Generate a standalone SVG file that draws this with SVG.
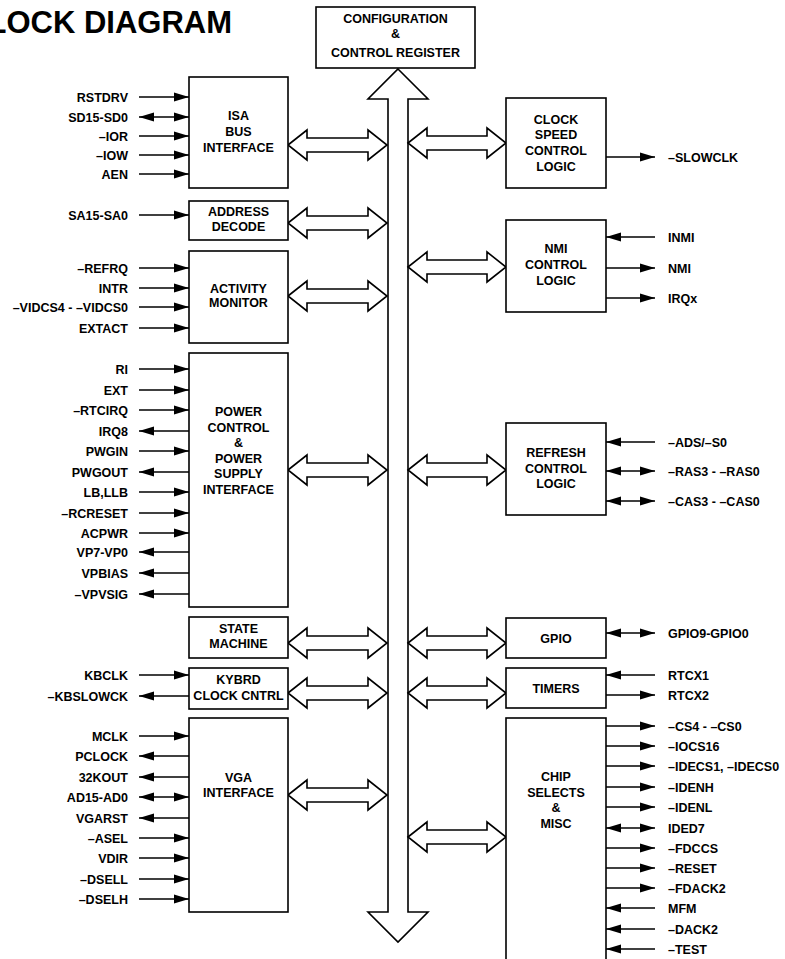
<svg xmlns="http://www.w3.org/2000/svg" width="785" height="959" viewBox="0 0 785 959">
<defs>
<marker id="ah" markerUnits="userSpaceOnUse" markerWidth="16" markerHeight="10" refX="15" refY="5" orient="auto-start-reverse" viewBox="0 0 16 10">
<path d="M0,0.5 L15,5 L0,9.5 z" fill="#000"/>
</marker>
<style>
text{font-family:"Liberation Sans",Arial,Helvetica,sans-serif;font-weight:bold;font-size:12.5px;fill:#000}
.t{text-anchor:middle}
.l{text-anchor:end}
.r{text-anchor:start}
.title{font-size:31px;text-anchor:end}
.box{fill:#fff;stroke:#000;stroke-width:1.6}
.bus{fill:#fff;stroke:#000;stroke-width:1.6;stroke-linejoin:miter}
.sig{stroke:#000;stroke-width:1.5;fill:none}
.in{marker-end:url(#ah)}
.bi{marker-start:url(#ah);marker-end:url(#ah)}
</style>
</defs>
<rect width="785" height="959" fill="#fff"/>
<text class="title" x="232" y="33">BLOCK DIAGRAM</text>

<g id="connectors">
<polygon class="bus" points="398,69 428,99 408,99 408,912 428,912 398,942 368,912 388,912 388,99 368,99"/>
<g id="left-links">
<polygon class="bus" points="288,145 307,130 307,138 368,138 368,130 387,145 368,160 368,152 307,152 307,160"/>
<polygon class="bus" points="288,223 307,208 307,216 368,216 368,208 387,223 368,238 368,230 307,230 307,238"/>
<polygon class="bus" points="288,296 307,281 307,289 368,289 368,281 387,296 368,311 368,303 307,303 307,311"/>
<polygon class="bus" points="288,470 307,455 307,463 368,463 368,455 387,470 368,485 368,477 307,477 307,485"/>
<polygon class="bus" points="288,643 307,628 307,636 368,636 368,628 387,643 368,658 368,650 307,650 307,658"/>
<polygon class="bus" points="288,693 307,678 307,686 368,686 368,678 387,693 368,708 368,700 307,700 307,708"/>
<polygon class="bus" points="288,795 307,780 307,788 368,788 368,780 387,795 368,810 368,802 307,802 307,810"/>
</g>
<g id="right-links">
<polygon class="bus" points="408,143 427,128 427,136 487,136 487,128 506,143 487,158 487,150 427,150 427,158"/>
<polygon class="bus" points="408,267 427,252 427,260 487,260 487,252 506,267 487,282 487,274 427,274 427,282"/>
<polygon class="bus" points="408,470 427,455 427,463 487,463 487,455 506,470 487,485 487,477 427,477 427,485"/>
<polygon class="bus" points="408,643 427,628 427,636 487,636 487,628 506,643 487,658 487,650 427,650 427,658"/>
<polygon class="bus" points="408,693 427,678 427,686 487,686 487,678 506,693 487,708 487,700 427,700 427,708"/>
<polygon class="bus" points="408,837 427,822 427,830 487,830 487,822 506,837 487,852 487,844 427,844 427,852"/>
</g>
<g id="left-signals">
<path class="sig in" d="M139,97 H189"/>
<path class="sig bi" d="M139,117 H189"/>
<path class="sig in" d="M139,136 H189"/>
<path class="sig in" d="M139,155 H189"/>
<path class="sig in" d="M139,174 H189"/>
<path class="sig in" d="M139,215 H189"/>
<path class="sig in" d="M139,268 H189"/>
<path class="sig in" d="M139,288 H189"/>
<path class="sig in" d="M139,307 H189"/>
<path class="sig in" d="M139,328 H189"/>
<path class="sig in" d="M139,369 H189"/>
<path class="sig in" d="M139,390 H189"/>
<path class="sig in" d="M139,410 H189"/>
<path class="sig in" d="M189,431 H139"/>
<path class="sig in" d="M139,451 H189"/>
<path class="sig in" d="M189,472 H139"/>
<path class="sig in" d="M139,492 H189"/>
<path class="sig in" d="M139,513 H189"/>
<path class="sig in" d="M139,533 H189"/>
<path class="sig in" d="M189,552 H139"/>
<path class="sig in" d="M189,573 H139"/>
<path class="sig in" d="M189,594 H139"/>
<path class="sig in" d="M139,675 H189"/>
<path class="sig in" d="M189,696 H139"/>
<path class="sig in" d="M139,736 H189"/>
<path class="sig in" d="M189,756 H139"/>
<path class="sig in" d="M189,777 H139"/>
<path class="sig bi" d="M139,797 H189"/>
<path class="sig in" d="M189,818 H139"/>
<path class="sig in" d="M139,838 H189"/>
<path class="sig in" d="M139,858 H189"/>
<path class="sig in" d="M139,879 H189"/>
<path class="sig in" d="M139,899 H189"/>
</g>
<g id="right-signals">
<path class="sig in" d="M606,157 H655"/>
<path class="sig in" d="M655,237 H606"/>
<path class="sig in" d="M606,268 H655"/>
<path class="sig in" d="M606,298 H655"/>
<path class="sig in" d="M655,442 H606"/>
<path class="sig bi" d="M606,471 H655"/>
<path class="sig bi" d="M606,501 H655"/>
<path class="sig bi" d="M606,633 H655"/>
<path class="sig in" d="M655,675 H606"/>
<path class="sig in" d="M606,695 H655"/>
<path class="sig in" d="M606,726 H655"/>
<path class="sig in" d="M606,746 H655"/>
<path class="sig in" d="M606,766 H655"/>
<path class="sig in" d="M606,787 H655"/>
<path class="sig in" d="M606,807 H655"/>
<path class="sig bi" d="M606,828 H655"/>
<path class="sig in" d="M606,848 H655"/>
<path class="sig in" d="M606,868 H655"/>
<path class="sig in" d="M606,888 H655"/>
<path class="sig in" d="M655,908 H606"/>
<path class="sig in" d="M655,929 H606"/>
<path class="sig in" d="M655,949 H606"/>
</g>
</g>

<g id="signal-labels">
<text class="l" x="128" y="101.5">RSTDRV</text>
<text class="l" x="128" y="121.5">SD15-SD0</text>
<text class="l" x="128" y="140.5">–IOR</text>
<text class="l" x="128" y="159.5">–IOW</text>
<text class="l" x="128" y="178.5">AEN</text>
<text class="l" x="128" y="219.5">SA15-SA0</text>
<text class="l" x="128" y="272.5">–REFRQ</text>
<text class="l" x="128" y="292.5">INTR</text>
<text class="l" x="128" y="311.5">–VIDCS4 - –VIDCS0</text>
<text class="l" x="128" y="332.5">EXTACT</text>
<text class="l" x="128" y="373.5">RI</text>
<text class="l" x="128" y="394.5">EXT</text>
<text class="l" x="128" y="414.5">–RTCIRQ</text>
<text class="l" x="128" y="435.5">IRQ8</text>
<text class="l" x="128" y="455.5">PWGIN</text>
<text class="l" x="128" y="476.5">PWGOUT</text>
<text class="l" x="128" y="496.5">LB,LLB</text>
<text class="l" x="128" y="517.5">–RCRESET</text>
<text class="l" x="128" y="537.5">ACPWR</text>
<text class="l" x="128" y="556.5">VP7-VP0</text>
<text class="l" x="128" y="577.5">VPBIAS</text>
<text class="l" x="128" y="598.5">–VPVSIG</text>
<text class="l" x="128" y="679.5">KBCLK</text>
<text class="l" x="128" y="700.5">–KBSLOWCK</text>
<text class="l" x="128" y="740.5">MCLK</text>
<text class="l" x="128" y="760.5">PCLOCK</text>
<text class="l" x="128" y="781.5">32KOUT</text>
<text class="l" x="128" y="801.5">AD15-AD0</text>
<text class="l" x="128" y="822.5">VGARST</text>
<text class="l" x="128" y="842.5">–ASEL</text>
<text class="l" x="128" y="862.5">VDIR</text>
<text class="l" x="128" y="883.5">–DSELL</text>
<text class="l" x="128" y="903.5">–DSELH</text>

<text class="r" x="668" y="161.5">–SLOWCLK</text>
<text class="r" x="668" y="241.5">INMI</text>
<text class="r" x="668" y="272.5">NMI</text>
<text class="r" x="668" y="302.5">IRQx</text>
<text class="r" x="668" y="446.5">–ADS/–S0</text>
<text class="r" x="668" y="475.5">–RAS3 - –RAS0</text>
<text class="r" x="668" y="505.5">–CAS3 - –CAS0</text>
<text class="r" x="668" y="637.5">GPIO9-GPIO0</text>
<text class="r" x="668" y="679.5">RTCX1</text>
<text class="r" x="668" y="699.5">RTCX2</text>
<text class="r" x="668" y="730.5">–CS4 - –CS0</text>
<text class="r" x="668" y="750.5">–IOCS16</text>
<text class="r" x="668" y="770.5">–IDECS1, –IDECS0</text>
<text class="r" x="668" y="791.5">–IDENH</text>
<text class="r" x="668" y="811.5">–IDENL</text>
<text class="r" x="668" y="832.5">IDED7</text>
<text class="r" x="668" y="852.5">–FDCCS</text>
<text class="r" x="668" y="872.5">–RESET</text>
<text class="r" x="668" y="892.5">–FDACK2</text>
<text class="r" x="668" y="912.5">MFM</text>
<text class="r" x="668" y="933.5">–DACK2</text>
<text class="r" x="668" y="953.5">–TEST</text>
</g>

<g id="config">
<rect class="box" x="316" y="7" width="159" height="61"/>
<text class="t" x="395.5" y="23">CONFIGURATION</text>
<text class="t" x="395.5" y="38">&amp;</text>
<text class="t" x="395.5" y="57">CONTROL REGISTER</text>
</g>
<g id="isa">
<rect class="box" x="189" y="77" width="99" height="111"/>
<text class="t" x="238.5" y="120">ISA</text>
<text class="t" x="238.5" y="136">BUS</text>
<text class="t" x="238.5" y="152">INTERFACE</text>
</g>
<g id="address">
<rect class="box" x="189" y="201" width="99" height="39"/>
<text class="t" x="238.5" y="216">ADDRESS</text>
<text class="t" x="238.5" y="231">DECODE</text>
</g>
<g id="activity">
<rect class="box" x="189" y="251" width="99" height="92"/>
<text class="t" x="238.5" y="293">ACTIVITY</text>
<text class="t" x="238.5" y="307">MONITOR</text>
</g>
<g id="power">
<rect class="box" x="189" y="353" width="99" height="254"/>
<text class="t" x="238.5" y="416">POWER</text>
<text class="t" x="238.5" y="432">CONTROL</text>
<text class="t" x="238.5" y="447">&amp;</text>
<text class="t" x="238.5" y="463">POWER</text>
<text class="t" x="238.5" y="478">SUPPLY</text>
<text class="t" x="238.5" y="494">INTERFACE</text>
</g>
<g id="state">
<rect class="box" x="189" y="617" width="99" height="41"/>
<text class="t" x="238.5" y="633">STATE</text>
<text class="t" x="238.5" y="648">MACHINE</text>
</g>
<g id="kybrd">
<rect class="box" x="189" y="668" width="99" height="41"/>
<text class="t" x="238.5" y="684">KYBRD</text>
<text class="t" x="238.5" y="700">CLOCK CNTRL</text>
</g>
<g id="vga">
<rect class="box" x="189" y="718" width="99" height="194"/>
<text class="t" x="238.5" y="782">VGA</text>
<text class="t" x="238.5" y="797">INTERFACE</text>
</g>
<g id="clock">
<rect class="box" x="506" y="98" width="100" height="90"/>
<text class="t" x="556" y="124">CLOCK</text>
<text class="t" x="556" y="139">SPEED</text>
<text class="t" x="556" y="155">CONTROL</text>
<text class="t" x="556" y="171">LOGIC</text>
</g>
<g id="nmi">
<rect class="box" x="506" y="220" width="100" height="92"/>
<text class="t" x="556" y="253">NMI</text>
<text class="t" x="556" y="269">CONTROL</text>
<text class="t" x="556" y="285">LOGIC</text>
</g>
<g id="refresh">
<rect class="box" x="506" y="423" width="100" height="92"/>
<text class="t" x="556" y="457">REFRESH</text>
<text class="t" x="556" y="473">CONTROL</text>
<text class="t" x="556" y="488">LOGIC</text>
</g>
<g id="gpio">
<rect class="box" x="506" y="618" width="100" height="40"/>
<text class="t" x="556" y="643">GPIO</text>
</g>
<g id="timers">
<rect class="box" x="506" y="668" width="100" height="40"/>
<text class="t" x="556" y="693">TIMERS</text>
</g>
<g id="chipselects">
<rect class="box" x="506" y="718" width="100" height="260"/>
<text class="t" x="556" y="781">CHIP</text>
<text class="t" x="556" y="797">SELECTS</text>
<text class="t" x="556" y="812">&amp;</text>
<text class="t" x="556" y="828">MISC</text>
</g>
</svg>
